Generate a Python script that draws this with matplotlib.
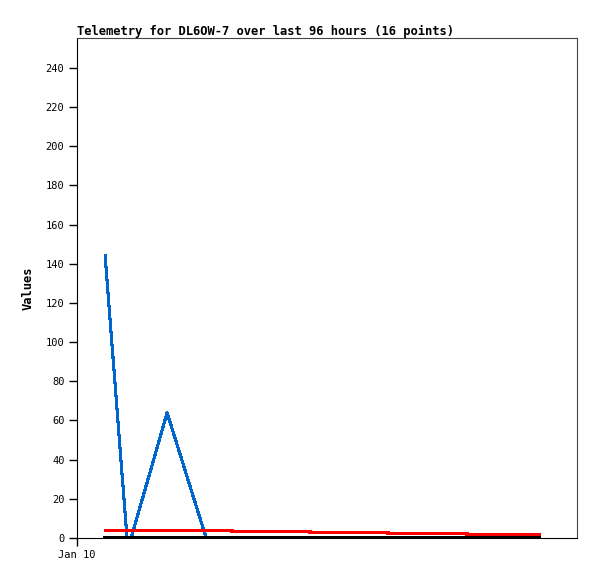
import matplotlib
matplotlib.use("Agg")
import matplotlib.pyplot as plt

# hours since start of the 96 hour window
hours = [5.4, 9.6, 10.4, 17.3, 24.8, 32.3, 39.7, 47.2, 54.7, 62.0, 69.5, 77.0, 80.8, 83.1, 86.0, 88.7]
blue_vals = [144, 0, 0, 64, 0, 0, 0, 0, 0, 0, 0, 0, 0, 0, 0, 0]
red_vals = [3.9, 3.9, 3.9, 3.9, 3.9, 3.4, 3.4, 2.9, 2.9, 2.4, 2.4, 1.9, 1.9, 1.9, 1.9, 1.9]
black_vals = [0] * 16

x_ticks = [0]
x_tick_labels = ["Jan 10"]
y_ticks = list(range(0, 241, 20))

plt.rcParams['font.family'] = ['DejaVu Sans Mono']

fig = plt.figure(figsize=(5.97, 5.79), dpi=100)
ax = fig.add_axes([77 / 597, 41 / 579, 500 / 597, 500 / 579])

# blue underneath, black drawn last like the reference
ax.plot(hours, blue_vals, color='#0066cc', lw=1.5, antialiased=False)
ax.plot(hours, red_vals, color='#ff0000', lw=1.5, antialiased=False)
ax.plot(hours, black_vals, color='black', lw=1.5, antialiased=False)

ax.set_xlim(0, 96)
ax.set_ylim(0, 255.3)
ax.set_xticks(x_ticks)
ax.set_xticklabels(x_tick_labels)
ax.set_yticks(y_ticks)
ax.tick_params(direction='out', length=6, width=1, labelsize=7.5, pad=3)

for side in ['right', 'top']:
    ax.spines[side].set_color('#444444')

ax.set_title("Telemetry for DL6OW-7 over last 96 hours (16 points)",
             loc='left', fontsize=8.7, fontweight='bold', pad=2)
ax.set_ylabel("Values", fontsize=8.7, fontweight='bold', labelpad=8)

fig.savefig("out.png", dpi=100)
